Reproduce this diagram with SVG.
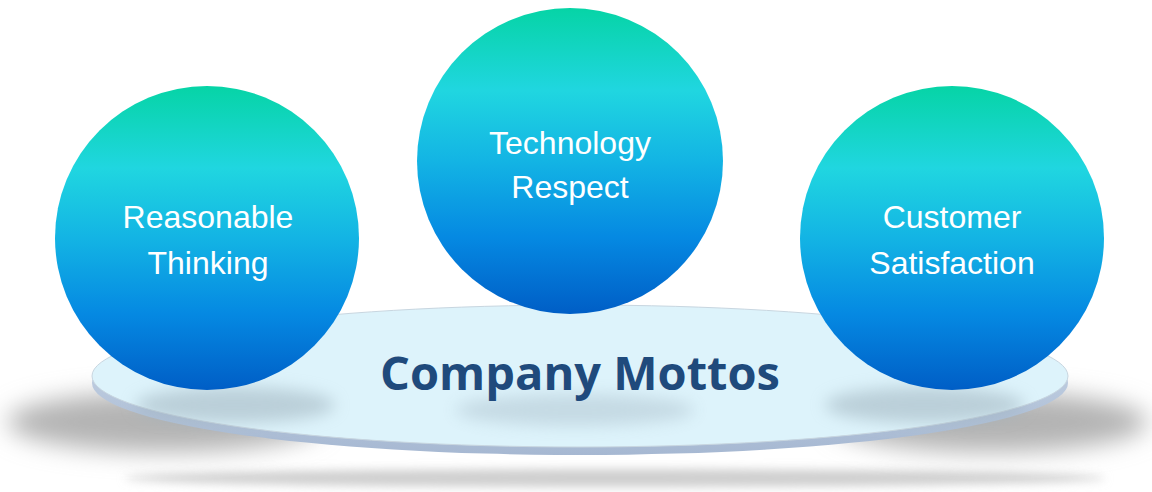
<svg xmlns="http://www.w3.org/2000/svg" width="1152" height="492" viewBox="0 0 1152 492">
  <style>
    .lbl { font-family: "Liberation Sans", Arial, sans-serif; font-size: 32px; fill: #ffffff; text-anchor: middle; }
    .title { font-family: "Open Sans", "Noto Sans", sans-serif; font-weight: bold; font-size: 47px; fill: #1f4a7c; text-anchor: middle; }
  </style>
  <defs>
    <linearGradient id="ball" x1="0" y1="0" x2="0" y2="1">
      <stop offset="0" stop-color="#06d4a6"/>
      <stop offset="0.27" stop-color="#20d6e0"/>
      <stop offset="0.5" stop-color="#13b4e4"/>
      <stop offset="0.75" stop-color="#0589e2"/>
      <stop offset="1" stop-color="#005ec6"/>
    </linearGradient>
    <linearGradient id="rim" x1="0" y1="0" x2="0" y2="1">
      <stop offset="0" stop-color="#d0dcea"/>
      <stop offset="1" stop-color="#a6b8d2"/>
    </linearGradient>
    <filter id="blur8" x="-20%" y="-50%" width="140%" height="200%"><feGaussianBlur stdDeviation="8"/></filter>
    <filter id="blur12" x="-20%" y="-80%" width="140%" height="260%"><feGaussianBlur stdDeviation="12"/></filter>
    <filter id="blur5" x="-10%" y="-100%" width="120%" height="300%"><feGaussianBlur stdDeviation="5"/></filter>
  </defs>

  <g id="shadows">
    <ellipse cx="615" cy="478" rx="490" ry="9" fill="#cfcfcf" filter="url(#blur5)"/>
    <ellipse cx="165" cy="422" rx="158" ry="30" fill="#b4b4b4" filter="url(#blur12)"/>
    <ellipse cx="990" cy="422" rx="158" ry="30" fill="#b4b4b4" filter="url(#blur12)"/>
  </g>

  <g id="platform">
    <ellipse cx="580" cy="383" rx="488" ry="72" fill="url(#rim)"/>
    <ellipse cx="580" cy="376" rx="488" ry="71" fill="#ddf3fb" stroke="#c8d6e0" stroke-width="1"/>
    <ellipse cx="235" cy="405" rx="100" ry="18" fill="#9fb2bd" opacity="0.55" filter="url(#blur8)"/>
    <ellipse cx="925" cy="405" rx="100" ry="18" fill="#9fb2bd" opacity="0.55" filter="url(#blur8)"/>
    <ellipse cx="575" cy="410" rx="120" ry="16" fill="#a8bcc8" opacity="0.45" filter="url(#blur8)"/>
    <text class="title" x="580" y="390">Company Mottos</text>
  </g>

  <g id="node-reasonable">
    <circle cx="207" cy="238" r="152" fill="url(#ball)"/>
    <text class="lbl" x="208" y="228">Reasonable</text>
    <text class="lbl" x="208" y="274">Thinking</text>
  </g>

  <g id="node-technology">
    <circle cx="570" cy="161" r="153" fill="url(#ball)"/>
    <text class="lbl" x="570" y="154">Technology</text>
    <text class="lbl" x="570" y="198">Respect</text>
  </g>

  <g id="node-customer">
    <circle cx="952" cy="238" r="152" fill="url(#ball)"/>
    <text class="lbl" x="952" y="228">Customer</text>
    <text class="lbl" x="952" y="274">Satisfaction</text>
  </g>

  <g id="connectors"/>
</svg>
